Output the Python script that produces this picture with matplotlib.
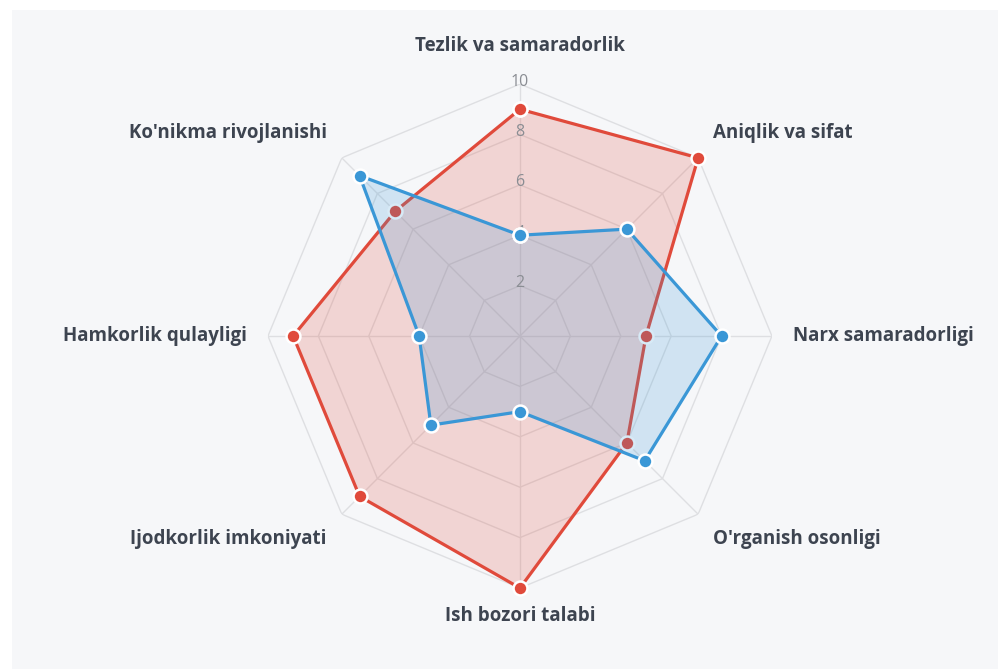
import numpy as np
import matplotlib.pyplot as plt
from matplotlib.patches import Rectangle

# -----------------------------
# Data
# -----------------------------
categories = [
    "Tezlik va samaradorlik",
    "Aniqlik va sifat",
    "Narx samaradorligi",
    "O'rganish osonligi",
    "Ish bozori talabi",
    "Ijodkorlik imkoniyati",
    "Hamkorlik qulayligi",
    "Ko'nikma rivojlanishi",
]
red_values = [9, 10, 5, 6, 10, 9, 9, 7]
blue_values = [4, 6, 8, 7, 3, 5, 4, 9]
tick_levels = [2, 4, 6, 8, 10]
tick_labels = ["2", "4", "6", "8", "10"]

RED = "#e04a3b"
BLUE = "#3a97d6"
GRID = "#dedfe2"
TEXT = "#3d4450"

plt.rcParams['font.family'] = ['Open Sans', 'DejaVu Sans']

fig = plt.figure(figsize=(9.98, 6.69), dpi=100, facecolor="white")
# panel background (behind the axes)
fig.patches.append(Rectangle((12 / 998, 0), 1 - 12 / 998, 1 - 10 / 669,
                             transform=fig.transFigure, facecolor="#f6f7f9",
                             edgecolor="none", zorder=-10))

ax = fig.add_axes([0.2685, 0.121, 0.505, 0.7534], projection="polar")
ax.set_facecolor("none")
ax.set_theta_offset(np.pi / 2)
ax.set_theta_direction(-1)
ax.set_ylim(0, 10)
ax.spines["polar"].set_visible(False)
ax.grid(False)
ax.set_xticks([])
ax.set_yticks([])

n = len(categories)
angles = np.linspace(0, 2 * np.pi, n, endpoint=False)
closed = np.append(angles, angles[0])

# polygon grid
for lvl in tick_levels:
    ax.plot(closed, [lvl] * (n + 1), color=GRID, lw=1, zorder=1)
for a in angles:
    ax.plot([a, a], [0, 10], color=GRID, lw=1, zorder=1)

# series: each one drawn fully (fill, line, markers) so the blue fill
# sits on top of the red line and markers
for i, (vals, col) in enumerate([(red_values, RED), (blue_values, BLUE)]):
    v = vals + vals[:1]
    z = 2 + 2 * i
    ax.fill(closed, v, color=col, alpha=0.2, zorder=z, lw=0)
    ax.plot(closed, v, color=col, lw=2.3, zorder=z + 1,
            marker="o", markersize=10, markerfacecolor=col,
            markeredgecolor="white", markeredgewidth=1.8, clip_on=False)

# tick labels on the top spoke
for lvl, lab in zip(tick_levels, tick_labels):
    ax.text(0, lvl + 0.1, lab, ha="center", va="center",
            fontsize=11.5, color="#8a8d93", zorder=4.5)

# category labels
for a, lab in zip(angles, categories):
    deg = round(np.degrees(a)) % 360
    r = 10.85
    if deg == 0:
        ha, va, r = "center", "bottom", 11.1
    elif deg == 180:
        ha, va, r = "center", "top", 10.7
    else:
        ha = "left" if deg < 180 else "right"
        if deg in (90, 270):
            va = "center"
        elif deg < 90 or deg > 270:
            va = "bottom"
        else:
            va = "top"
    ax.text(a, r, lab, ha=ha, va=va, fontsize=13.5, fontweight="bold",
            color=TEXT, zorder=6)

fig.savefig("out.png", dpi=100, facecolor=fig.get_facecolor())
